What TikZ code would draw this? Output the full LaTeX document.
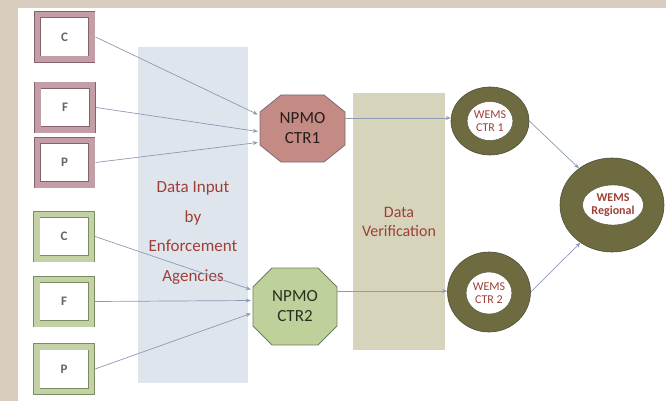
\documentclass[tikz,border=0pt]{standalone}
\usepackage{fontspec}
\setmainfont{Carlito}
\usetikzlibrary{arrows.meta,shapes.geometric,calc}
\definecolor{tanbg}{HTML}{D9CDBF}
\definecolor{bandA}{HTML}{DFE5EC}
\definecolor{bandB}{HTML}{D6D5BB}
\definecolor{brick}{HTML}{9E3F38}
\definecolor{pinkfill}{HTML}{C49EA6}
\definecolor{pinkline}{HTML}{86626C}
\definecolor{greenfill}{HTML}{C2D2A4}
\definecolor{greenline}{HTML}{7A8B61}
\definecolor{octAfill}{HTML}{C48B84}
\definecolor{octAline}{HTML}{7D6A78}
\definecolor{octBfill}{HTML}{BFD19A}
\definecolor{octBline}{HTML}{6F7D62}
\definecolor{olive}{HTML}{6D6B3F}
\definecolor{oliveline}{HTML}{4F4E38}
\definecolor{conncol}{HTML}{8B9BB4}
\tikzset{
  frameA/.style={rectangle, draw=pinkline, line width=0.8pt, double=pinkfill, double distance=5.5pt,
     fill=white, minimum width=54.5pt, minimum height=44.5pt, inner sep=0pt, outer sep=3.8pt,
     font=\fontsize{13}{13}\selectfont\bfseries, text=black!60},
  frameB/.style={frameA, draw=greenline, double=greenfill},
  octA/.style={fill=octAfill, draw=octAline, line width=0.8pt},
  octB/.style={fill=octBfill, draw=octBline, line width=0.8pt},
  octtext/.style={align=center, inner sep=0pt, font=\fontsize{17}{20}\selectfont},
  ringout/.style={ellipse, fill=olive, draw=oliveline, line width=0.6pt, inner sep=0pt},
  ringin/.style={ellipse, fill=white, draw=oliveline, line width=0.4pt, inner sep=0pt, align=center,
     text=brick, font=\fontsize{12}{12.5}\selectfont},
  conn/.style={draw=conncol, line width=0.7pt, -{Stealth[length=5pt,width=4pt]}},
  bandtext/.style={align=center, text=brick, inner sep=0pt}
}
\begin{document}
\begin{tikzpicture}[x=1pt,y=-1pt]
\useasboundingbox (0,0) rectangle (666,401);
% page background
\fill[white] (0,0) rectangle (666,401);
\fill[tanbg] (0,0) rectangle (666,8);
\fill[tanbg] (0,0) rectangle (18,401);
% bands
\fill[bandA] (138,47) rectangle (248,383);
\fill[bandB] (353,93) rectangle (445,350);
\node[bandtext, font=\fontsize{17}{29.5}\selectfont] (t1) at (193,233)
  {Data Input\\by\\Enforcement\\Agencies};
\node[bandtext, font=\fontsize{16}{19}\selectfont] (t2) at (399,222) {Data\\Verification};
% source boxes
\node[frameA] (c1) at (64.5,37) {C};
\node[frameA] (f1) at (65,107.5) {F};
\node[frameA] (p1) at (64.5,162.5) {P};
\node[frameB] (c2) at (64,236.5) {C};
\node[frameB] (f2) at (64,301.5) {F};
\node[frameB] (p2) at (64,369) {P};
% octagons
\path[octA] (302.5,128.5) +(-21.5,-33.5) -- +(21.5,-33.5) -- +(42.5,-16.5) -- +(42.5,16.5)
  -- +(21.5,33.5) -- +(-21.5,33.5) -- +(-42.5,16.5) -- +(-42.5,-16.5) -- cycle;
\node[octtext, text=black!65!octAfill!60!black, minimum width=85pt, minimum height=67pt] (n1) at (302.5,128.5) {NPMO\\CTR1};
\path[octB] (295,306.5) +(-23,-38.5) -- +(23,-38.5) -- +(42,-19.5) -- +(42,19.5)
  -- +(23,38.5) -- +(-23,38.5) -- +(-42,19.5) -- +(-42,-19.5) -- cycle;
\node[octtext, text=black!60!octBfill!55!black, minimum width=84pt, minimum height=77pt] (n2) at (295,306.5) {NPMO\\CTR2};
% rings
\node[ringout, minimum width=78pt, minimum height=68pt] (w1) at (490,121) {};
\node[ringin, minimum width=38pt, minimum height=39pt] (w1i) at (490,121) {WEMS\\CTR 1};
\node[ringout, minimum width=83pt, minimum height=80pt] (w2) at (489,292) {};
\node[ringin, minimum width=38pt, minimum height=42pt] (w2i) at (489,293) {WEMS\\CTR 2};
\node[ringout, minimum width=104pt, minimum height=94pt] (r) at (612,205) {};
\node[ringin, minimum width=52pt, minimum height=40pt, font=\fontsize{12}{13}\bfseries] (ri) at (613,205) {WEMS\\Regional};
% connectors
\draw[conn] (c1.east) -- ($(n1.west)+(-2,-14)$);
\draw[conn] (f1.east) -- ($(n1.west)+(-2,3)$);
\draw[conn] (p1.east) -- ($(n1.west)+(-2,14)$);
\draw[conn] (c2.east) -- ($(n2.west)+(-2,-17)$);
\draw[conn] (f2.east) -- ($(n2.west)+(-2,-6)$);
\draw[conn] (p2.east) -- ($(n2.west)+(-2,7)$);
\draw[conn] ($(n1.east)+(0,-10.5)$) -- (w1.west |- 0,118);
\draw[conn] ($(n2.east)+(0,-15.5)$) -- (w2.west |- 0,291);
\draw[conn] (w1.east) -- (r.132);
\draw[conn] (w2.east) -- (r.-130);
\end{tikzpicture}
\end{document}
